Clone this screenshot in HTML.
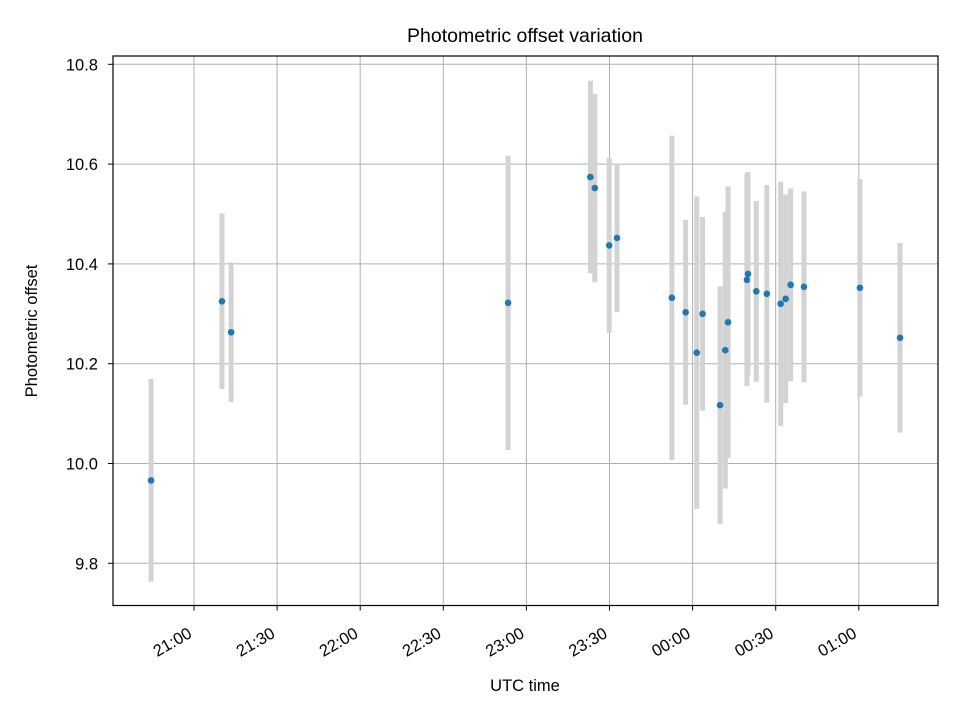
<!DOCTYPE html>
<html><head><meta charset="utf-8"><style>
body{margin:0;background:#fff}
svg text{font-family:"Liberation Sans","DejaVu Sans",sans-serif;fill:#000}
</style></head><body>
<svg id="chart" width="960" height="720" xmlns="http://www.w3.org/2000/svg">
<rect width="960" height="720" fill="#fff"/>
<g id="grid"></g><g id="bars"></g><g id="pts"></g><g id="axes"></g>
</svg>
<script>
// minutes since 21:00 UTC
const times=[-15.5,10.1,13.4,113.4,143.1,144.7,149.9,152.7,172.5,177.5,181.5,183.6,189.9,191.8,192.8,199.6,200,203,206.8,211.8,213.6,215.4,220.2,240.4,254.9];
const values=[9.966,10.325,10.263,10.322,10.574,10.552,10.437,10.452,10.332,10.303,10.222,10.300,10.117,10.227,10.283,10.368,10.380,10.345,10.340,10.320,10.330,10.358,10.354,10.352,10.252];
const errors=[0.203,0.176,0.140,0.295,0.193,0.189,0.175,0.149,0.325,0.185,0.313,0.194,0.238,0.277,0.272,0.213,0.204,0.181,0.218,0.245,0.209,0.193,0.191,0.218,0.190];
const xTickMin=[0,30,60,90,120,150,180,210,240];
const xTickLabels=["21:00","21:30","22:00","22:30","23:00","23:30","00:00","00:30","01:00"];
const yTicks=[9.8,10.0,10.2,10.4,10.6,10.8];

const L=113,R=938,T=56,B=605.5;
const xs=m=>194+(m)*83.1/30;
const ys=v=>463.5-(v-10)*499;
const NS="http://www.w3.org/2000/svg";
function mk(parent,tag,attrs){const e=document.createElementNS(NS,tag);for(const k in attrs)e.setAttribute(k,attrs[k]);document.getElementById(parent).appendChild(e);return e;}

xTickMin.forEach((m,i)=>{
  const x=xs(m);
  const g=mk('grid','line',{x1:x,x2:x,y1:T,y2:B,stroke:'#b0b0b0','stroke-width':1});
  
  
  const t=mk('axes','line',{x1:x,x2:x,y1:B,y2:B+5,stroke:'#000','stroke-width':1});
  
  
  const ax=x-1, ay=B+31;
  const lb=mk('axes','text',{x:ax,y:ay,'font-size':16.5,'text-anchor':'end',transform:`rotate(-30 ${ax} ${ay})`});
  lb.textContent=xTickLabels[i];
  
  
});
yTicks.forEach(v=>{
  const y=ys(v);
  const g=mk('grid','line',{x1:L,x2:R,y1:y,y2:y,stroke:'#b0b0b0','stroke-width':1});
  
  
  const t=mk('axes','line',{x1:L-5,x2:L,y1:y,y2:y,stroke:'#000','stroke-width':1});
  
  
  const lb=mk('axes','text',{x:L-15,y:y+6,'font-size':16.5,'text-anchor':'end'});
  lb.textContent=v.toFixed(1);
  
  
});
times.forEach((m,i)=>{
  const x=xs(m);
  const b=mk('bars','line',{x1:x,x2:x,y1:ys(values[i]-errors[i]),y2:ys(values[i]+errors[i]),stroke:'#d3d3d3','stroke-width':5});
  
  
  const p=mk('pts','circle',{cx:x,cy:ys(values[i]),r:3.3,fill:'#1f77b4'});
  
  
});
const fr=mk('axes','rect',{x:L,y:T,width:R-L,height:B-T,fill:'none',stroke:'#000','stroke-width':1.2});


const ti=mk('axes','text',{x:525,y:42,'font-size':19.5,'text-anchor':'middle'});
ti.textContent='Photometric offset variation';


const xl=mk('axes','text',{x:525,y:691,'font-size':16.5,'text-anchor':'middle'});
xl.textContent='UTC time';


const yl=mk('axes','text',{x:37,y:331,'font-size':16.5,'text-anchor':'middle',transform:'rotate(-90 37 331)'});
yl.textContent='Photometric offset';


</script>
</body></html>
